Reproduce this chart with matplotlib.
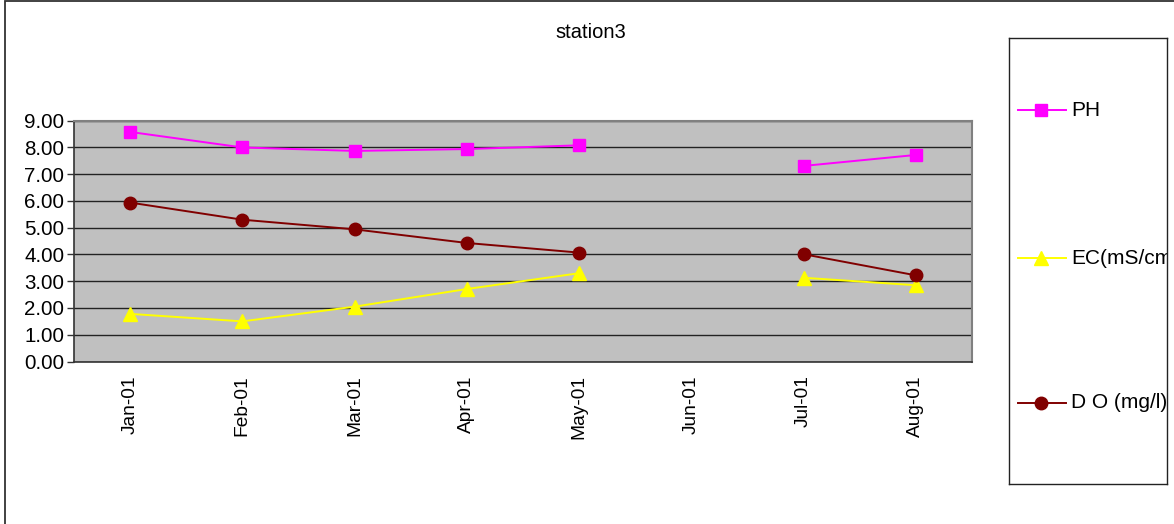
import matplotlib.pyplot as plt
import numpy as np
from matplotlib.lines import Line2D
from matplotlib.patches import Rectangle

plt.rcParams['font.family'] = ['Liberation Sans', 'DejaVu Sans']

months = ['Jan-01', 'Feb-01', 'Mar-01', 'Apr-01', 'May-01', 'Jun-01', 'Jul-01', 'Aug-01']
ph = [8.58, 8.00, 7.87, 7.94, 8.08, np.nan, 7.31, 7.72]
ec = [1.78, 1.50, 2.05, 2.71, 3.30, np.nan, 3.13, 2.85]
do = [5.94, 5.30, 4.94, 4.43, 4.07, np.nan, 4.01, 3.22]

series = [
    ('PH', ph, '#FF00FF', 's', 8.5),
    ('EC(mS/cm)', ec, '#FFFF00', '^', 9.5),
    ('D O (mg/l)', do, '#800000', 'o', 9),
]


def creating_plot():
    fig = plt.figure(figsize=(11.74, 5.24), dpi=100)

    # outer chart border (runs off the right and bottom edges)
    fig.patches.append(Rectangle((5 / 1174, -0.05), 1.2, (519 + 30) / 524,
                                 transform=fig.transFigure, fill=False,
                                 edgecolor='#333333', linewidth=1.3))

    ax = fig.add_axes([74 / 1174, 1 - 361.5 / 524, 898 / 1174, 240.8 / 524])
    ax.set_facecolor('#C0C0C0')
    x = np.arange(len(months))
    for name, vals, col, mk, ms in series:
        ax.plot(x, vals, color=col, marker=mk, markersize=ms, linewidth=1.4,
                markeredgecolor=col, zorder=3)

    ax.set_xlim(-0.5, len(months) - 0.5)
    ax.set_ylim(0, 9)
    ax.set_yticks(np.arange(0, 9.5, 1))
    ax.set_yticklabels([f'{v:.2f}' for v in np.arange(0, 9.5, 1)])
    ax.set_xticks(x)
    ax.set_xticklabels(months, rotation=90)
    ax.tick_params(axis='x', length=0, pad=10, labelsize=13.8)
    ax.tick_params(axis='y', length=5, width=1, color='#333333', pad=2, labelsize=14.8)
    ax.yaxis.grid(True, color='#222222', linewidth=1)
    ax.set_axisbelow(True)
    for side in ['top', 'right']:
        ax.spines[side].set_color('#808080')
        ax.spines[side].set_linewidth(1.5)
    for side in ['left', 'bottom']:
        ax.spines[side].set_color('#333333')
        ax.spines[side].set_linewidth(1.2)

    fig.text(591 / 1174, 1 - 33 / 524, 'station3', ha='center', va='center', fontsize=14.5)

    # legend box drawn as its own axes so the long label gets clipped
    lg = fig.add_axes([1009 / 1174, 1 - 484 / 524, 158 / 1174, 446 / 524])
    lg.set_xlim(1009, 1167)
    lg.set_ylim(484, 38)
    lg.set_xticks([])
    lg.set_yticks([])
    for s in lg.spines.values():
        s.set_color('#222222')
        s.set_linewidth(1)
    ys = [110, 258, 403]
    for (name, vals, col, mk, ms), yy in zip(series, ys):
        lg.add_line(Line2D([1018, 1066], [yy, yy], color=col, linewidth=1.4))
        lg.plot([1041], [yy], marker=mk, color=col, markersize=ms, markeredgecolor=col)
        lg.text(1071, yy, name, va='center', ha='left', fontsize=15, clip_on=True)

    plt.savefig('out.png', dpi=100)


def main():
    creating_plot()


if __name__ == '__main__':
    main()
